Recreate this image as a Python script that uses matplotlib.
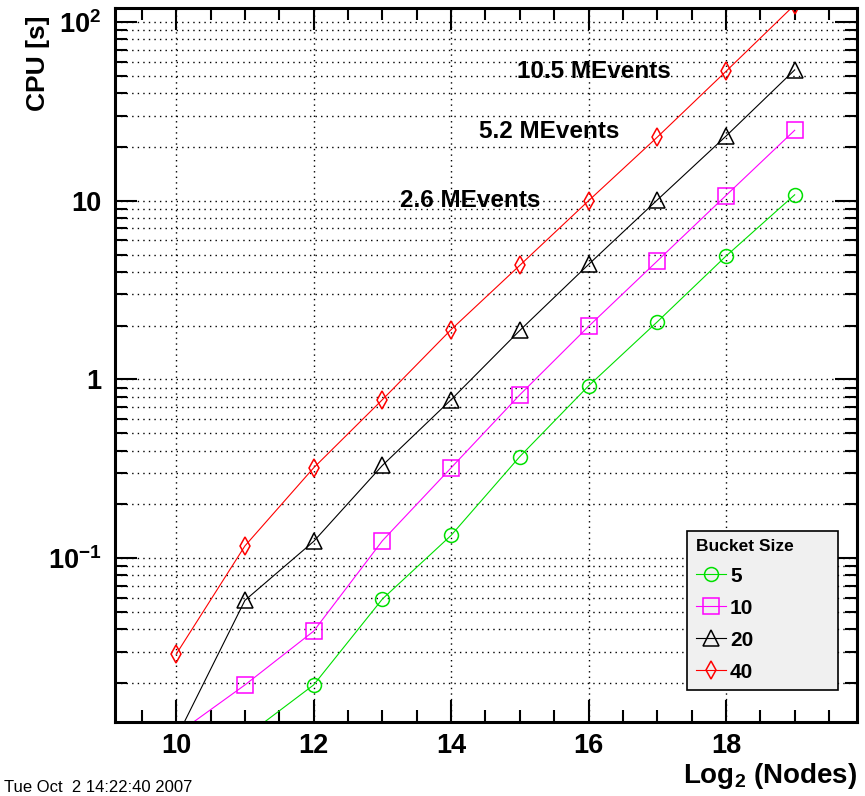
import numpy as np
from matplotlib import pyplot as plt
from matplotlib.ticker import MultipleLocator, LogLocator, FuncFormatter, NullFormatter

nodes = [10, 11, 12, 13, 14, 15, 16, 17, 18, 19]
cpu_5 = [0.005, 0.01, 0.0195, 0.059, 0.134, 0.37, 0.92, 2.1, 4.9, 10.8]
cpu_10 = [0.0103, 0.0195, 0.039, 0.125, 0.32, 0.82, 1.98, 4.6, 10.7, 24.8]
cpu_20 = [0.0098, 0.058, 0.124, 0.33, 0.77, 1.88, 4.4, 10.1, 23.0, 54.0]
cpu_40 = [0.029, 0.117, 0.32, 0.77, 1.9, 4.35, 10.0, 22.7, 53.0, 125.0]

plt.rcParams['font.family'] = 'Liberation Sans'
plt.rcParams['font.weight'] = 'bold'
plt.rcParams['axes.labelweight'] = 'bold'
plt.rcParams['mathtext.fontset'] = 'custom'
plt.rcParams['mathtext.rm'] = 'Liberation Sans:bold'
plt.rcParams['mathtext.bf'] = 'Liberation Sans:bold'
plt.rcParams['mathtext.it'] = 'Liberation Sans:bold'

fig = plt.figure(figsize=(8.65, 7.96), dpi=100)
ax = fig.add_axes([0.133, 0.093, 0.858, 0.897])

lw = 0.8
mew = 1.1
ax.plot(nodes, cpu_5, color="#00e000", lw=lw, marker="o", ms=10, mfc="none", mew=mew, label="5")
ax.plot(nodes, cpu_10, color="#ff00ff", lw=lw, marker="s", ms=11, mfc="none", mew=mew, label="10")
ax.plot(nodes, cpu_20, color="black", lw=lw, marker="^", ms=11, mfc="none", mew=mew, label="20")
ax.plot(nodes, cpu_40, color="#ff0000", lw=lw, marker="d", ms=9, mfc="none", mew=mew, label="40")

ax.set_yscale("log")
ax.set_xlim(9.11, 19.91)
ax.set_ylim(0.0121, 120)

ax.xaxis.set_major_locator(MultipleLocator(2))
ax.xaxis.set_minor_locator(MultipleLocator(0.5))
ax.yaxis.set_major_locator(LogLocator(base=10))
ax.yaxis.set_minor_locator(LogLocator(base=10, subs=np.arange(2, 10)))
ax.yaxis.set_minor_formatter(NullFormatter())

def yfmt(v, pos):
    e = int(round(np.log10(v)))
    if e == 0:
        return "1"
    if e == 1:
        return "10"
    return "$10^{%d}$" % e

ax.yaxis.set_major_formatter(FuncFormatter(yfmt))

ax.tick_params(which="both", direction="in", top=True, right=True, width=1.5, labelsize=19.5)
ax.tick_params(which="major", length=16)
ax.tick_params(which="minor", length=8.6)
ax.tick_params(axis="y", pad=10)
ax.tick_params(axis="x", pad=8)
for s in ax.spines.values():
    s.set_linewidth(2.2)

dots = (0, (1, 3))
ax.grid(True, which="major", axis="x", ls=dots, lw=1.0, color="black")
ax.grid(True, which="both", axis="y", ls=dots, lw=1.0, color="black")

ax.set_ylabel("CPU [s]", fontsize=19, loc="top")
ax.yaxis.set_label_coords(-0.088, 0.99)
ax.set_xlabel("Log$_2$ (Nodes)", fontsize=20, loc="right", va="top")
ax.xaxis.set_label_coords(1.0, -0.054)

ax.text(14.96, 53, "10.5 MEvents", fontsize=17.5, va="center")
ax.text(14.40, 24.5, "5.2 MEvents", fontsize=17.5, va="center")
ax.text(13.26, 10, "2.6 MEvents", fontsize=17.5, va="center")

leg = ax.legend(title="Bucket Size", alignment="left", loc="lower left",
                bbox_to_anchor=(0.771, 0.045, 0.203, 0.228), mode="expand",
                fontsize=15, title_fontproperties={"weight": "bold", "size": 12.5},
                fancybox=False, edgecolor="black", facecolor="#f0f0f0", framealpha=1,
                handlelength=1.45, handletextpad=0.2, labelspacing=0.62, borderaxespad=0)
leg.get_frame().set_linewidth(1.2)

fig.text(0.005, 0.001, "Tue Oct  2 14:22:40 2007", fontsize=12, fontweight="normal", va="bottom")

fig.savefig("out.png", dpi=100)
